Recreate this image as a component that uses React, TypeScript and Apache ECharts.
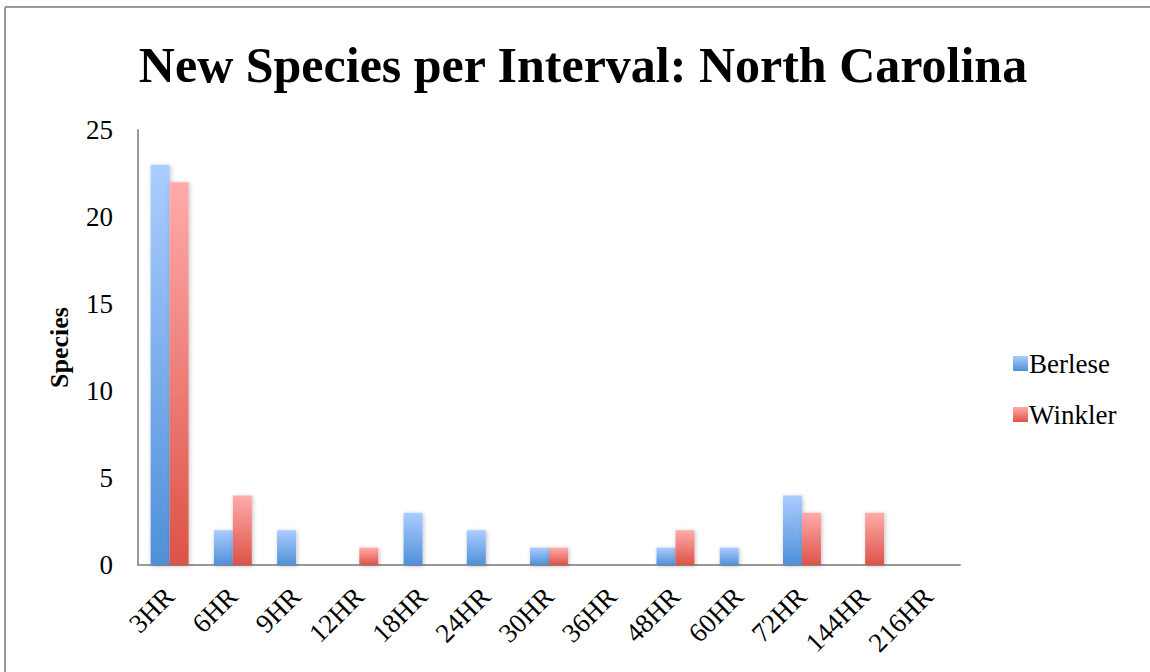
import React, { useEffect, useRef } from "react";
import * as echarts from "echarts";

const categories = ["3HR", "6HR", "9HR", "12HR", "18HR", "24HR", "30HR", "36HR", "48HR", "60HR", "72HR", "144HR", "216HR"];
const berlese = [23, 2, 2, 0, 3, 2, 1, 0, 1, 1, 4, 0, 0];
const winkler = [22, 4, 0, 1, 0, 0, 1, 0, 2, 0, 3, 3, 0];
const yTicks = { min: 0, max: 25, interval: 5 };

const serif = "Liberation Serif";

const grad = (top: string, bottom: string) =>
  new echarts.graphic.LinearGradient(0, 0, 0, 1, [
    { offset: 0, color: top },
    { offset: 1, color: bottom },
  ]);

export default function App() {
  const ref = useRef<HTMLDivElement>(null);

  useEffect(() => {
    document.body.style.margin = "0";
    const chart = echarts.init(ref.current!, null, { renderer: "svg" });
    const barStyle = {
      shadowBlur: 4,
      shadowColor: "rgba(0,0,0,0.25)",
      shadowOffsetX: 1,
      shadowOffsetY: 1,
    };
    chart.setOption({
      animation: false,
      backgroundColor: "#fff",
      title: {
        text: "New Species per Interval: North Carolina",
        left: 578,
        textAlign: "center",
        top: 35,
        textStyle: { fontFamily: serif, fontWeight: "bold", fontSize: 50, color: "#000" },
      },
      legend: {
        orient: "vertical",
        left: 1008,
        top: 345,
        itemWidth: 15,
        itemHeight: 15,
        itemGap: 24,
        icon: "rect",
        textStyle: { fontFamily: serif, fontSize: 27, color: "#000", padding: [0, 0, 0, -4] },
        data: ["Berlese", "Winkler"],
      },
      grid: { left: 138, top: 130, right: 190, bottom: 107 },
      xAxis: {
        type: "category",
        data: categories,
        axisLine: { lineStyle: { color: "#999", width: 2 } },
        axisTick: { show: false },
        axisLabel: {
          rotate: 45,
          interval: 0,
          margin: 27,
          fontFamily: serif,
          fontSize: 27,
          color: "#000",
        },
      },
      yAxis: {
        type: "value",
        min: yTicks.min,
        max: yTicks.max,
        interval: yTicks.interval,
        name: "Species",
        nameLocation: "middle",
        nameGap: 66,
        nameTextStyle: { fontFamily: serif, fontWeight: "bold", fontSize: 26, color: "#000" },
        splitLine: { show: false },
        axisLine: { show: true, lineStyle: { color: "#999", width: 2 } },
        axisTick: { show: false },
        axisLabel: { fontFamily: serif, fontSize: 27, color: "#000", margin: 25 },
      },
      series: [
        {
          name: "Berlese",
          type: "bar",
          data: berlese,
          barGap: "0%",
          barCategoryGap: "40%",
          itemStyle: { color: grad("#abcdff", "#4f90d8"), ...barStyle },
        },
        {
          name: "Winkler",
          type: "bar",
          data: winkler,
          itemStyle: { color: grad("#ffabaa", "#dc5348"), ...barStyle },
        },
      ],
      graphic: [
        { type: "line", shape: { x1: 5, y1: 7, x2: 1150, y2: 7 }, style: { stroke: "#999", lineWidth: 2 } },
        { type: "line", shape: { x1: 5, y1: 7, x2: 5, y2: 672 }, style: { stroke: "#999", lineWidth: 2 } },
      ],
    });
    return () => chart.dispose();
  }, []);

  return <div ref={ref} style={{ position: "absolute", left: 0, top: 0, width: 1150, height: 672 }} />;
}
